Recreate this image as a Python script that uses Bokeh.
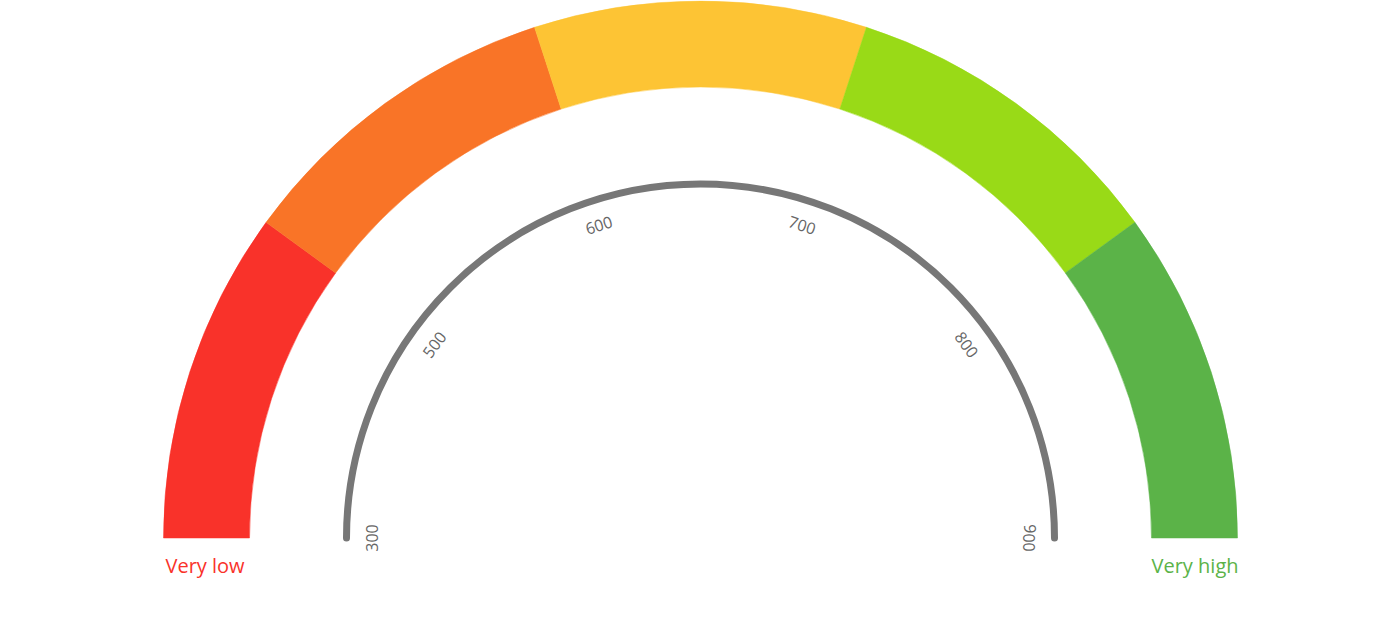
import numpy as np
from bokeh.plotting import figure
from bokeh.models import Range1d, ColumnDataSource
from bokeh.core.properties import value
from bokeh.embed import file_html
from bokeh.resources import INLINE

# ---- data ----
band_edges = [300, 500, 600, 700, 800, 900]
band_colors = ["#f9322a", "#f97427", "#fdc434", "#99da17", "#5bb348"]
tick_values = [300, 500, 600, 700, 800, 900]
tick_labels = ["300", "500", "600", "700", "800", "900"]
end_labels = ["Very low", "Very high"]
end_colors = ["#f9322a", "#5bb348"]

W, H = 1398, 636
CY = 537.5  # gauge centre from top (px)
R_OUT, R_IN = 537, 451
R_AXIS = 354
R_LABEL = 329

edge_angles = np.linspace(np.pi, 0, len(band_edges))


def val_to_angle(v):
    return np.interp(v, band_edges, edge_angles)


p = figure(width=W, height=H, output_backend="svg", toolbar_location=None,
           x_range=Range1d(-700, W - 700), y_range=Range1d(-(H - CY), CY),
           x_axis_location=None, y_axis_location=None,
           min_border=0, min_border_left=0, min_border_right=0,
           min_border_top=0, min_border_bottom=0, tools="")
p.grid.visible = False
p.outline_line_color = None
p.background_fill_color = "white"
p.border_fill_color = "white"

# colored bands
starts = [val_to_angle(b) for b in band_edges[1:]]
ends = [val_to_angle(a) for a in band_edges[:-1]]
band_src = ColumnDataSource(dict(x=[0] * len(band_colors), y=[0] * len(band_colors),
                                 start=starts, end=ends, color=band_colors))
p.annular_wedge(x="x", y="y", inner_radius=R_IN, outer_radius=R_OUT,
                start_angle="start", end_angle="end", fill_color="color",
                line_color="color", line_width=0.5, source=band_src)

# grey axis arc
p.arc(x=0, y=0, radius=R_AXIS, start_angle=val_to_angle(band_edges[-1]),
      end_angle=val_to_angle(band_edges[0]), line_color="#777777",
      line_width=7, line_cap="round")

# tick labels
ta = np.array([val_to_angle(v) for v in tick_values])
tick_src = ColumnDataSource(dict(x=R_LABEL * np.cos(ta), y=R_LABEL * np.sin(ta),
                                 text=tick_labels, angle=ta - np.pi / 2))
p.text(x="x", y="y", text="text", angle="angle", source=tick_src,
       text_font=value("Open Sans"), text_font_size="16px", text_color="#666666",
       text_align="center", text_baseline="middle")

# end labels
p.text(x=[-R_OUT + 2], y=[-27], text=end_labels[:1],
       text_font=value("Open Sans"), text_font_size="20px",
       text_color=end_colors[0], text_align="left", text_baseline="middle")
p.text(x=[R_OUT + 1], y=[-27], text=end_labels[1:],
       text_font=value("Open Sans"), text_font_size="20px",
       text_color=end_colors[1], text_align="right", text_baseline="middle")

open("out.html", "w").write(file_html(p, INLINE))
